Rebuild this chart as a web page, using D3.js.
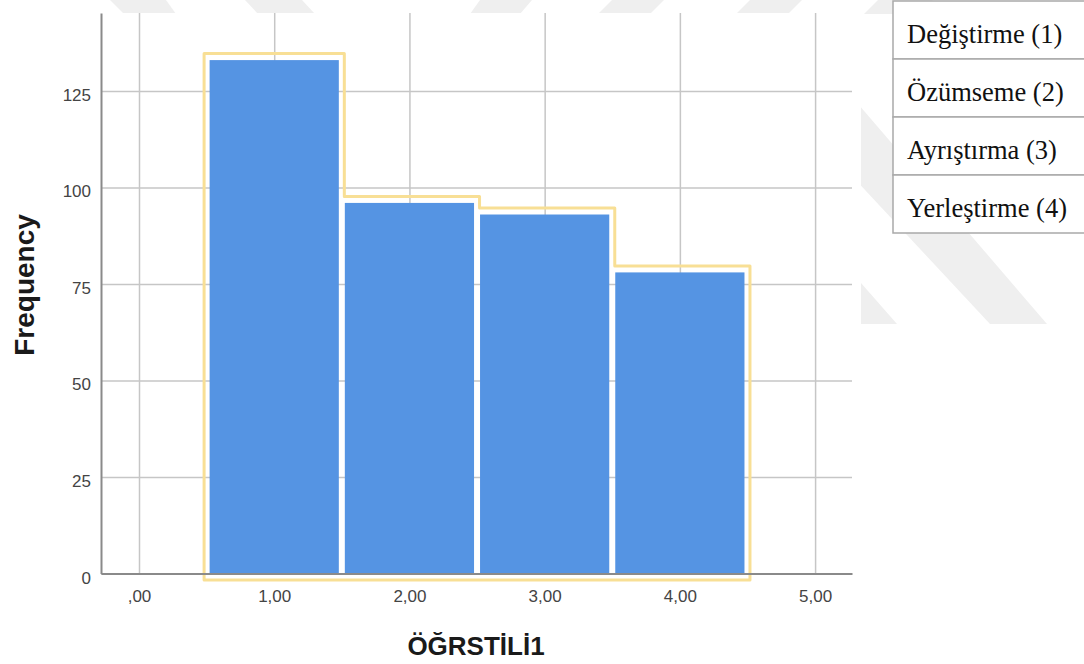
<!DOCTYPE html>
<html><head><meta charset="utf-8">
<script src="https://cdn.jsdelivr.net/npm/d3@7"></script>
<style>body{margin:0;background:#fff;} svg{display:block}</style>
</head><body><svg id="c" width="1084" height="664"></svg>
<script>
// ---- data ----
const binCenters = [1, 2, 3, 4];
const frequencies = [133, 96, 93, 78];
const xTickValues = [0, 1, 2, 3, 4, 5];
const xTickLabels = [",00", "1,00", "2,00", "3,00", "4,00", "5,00"];
const yTickValues = [0, 25, 50, 75, 100, 125];
const legendLabels = ["Değiştirme (1)", "Özümseme (2)", "Ayrıştırma (3)", "Yerleştirme (4)"];
const xTitle = "ÖĞRSTİLİ1";
const yTitle = "Frequency";

// ---- drawing ----
const svg = d3.select("#c");
const x = d3.scaleLinear().domain([-0.281, 5.273]).range([101, 852]);
const y = d3.scaleLinear().domain([0, 145.2]).range([573.5, 13]);

// faint watermark
const defs = svg.append("defs");
const cp = defs.append("clipPath").attr("id", "wm");
cp.append("rect").attr("x", 0).attr("y", 0).attr("width", 1084).attr("height", 13);
cp.append("rect").attr("x", 861).attr("y", 13).attr("width", 223).attr("height", 311);
const wmPolys = [
  [[110,0],[166,0],[176,14],[124,14]],
  [[245,0],[302,0],[315,14],[258,14]],
  [[480,0],[532,0],[520,14],[470,14]],
  [[612,0],[664,0],[650,14],[598,14]],
  [[750,0],[802,0],[788,14],[736,14]],
  [[878,0],[933,0],[920,14],[864,14]],
  [[700,13],[780,13],[1047,324],[990,324]],
  [[820,240],[861,283],[897,324],[820,324]]
];
svg.append("g").attr("clip-path", "url(#wm)")
  .selectAll("polygon").data(wmPolys).join("polygon")
  .attr("points", d => d.map(p => p.join(",")).join(" "))
  .attr("fill", "#efefef");

// gridlines
const gridColor = "#c6c6c6";
const gx = svg.append("g").attr("transform", `translate(0,${y(0)})`)
  .call(d3.axisBottom(x).tickValues(xTickValues).tickSize(-(y(0) - y(145.2))).tickFormat(""));
gx.select(".domain").remove();
gx.selectAll("line").attr("stroke", gridColor).attr("stroke-width", 1.5);
const gy = svg.append("g").attr("transform", `translate(${x(-0.281)},0)`)
  .call(d3.axisLeft(y).tickValues(yTickValues).tickSize(-(x(5.273) - x(-0.281))).tickFormat(""));
gy.select(".domain").remove();
gy.selectAll("line").attr("stroke", gridColor).attr("stroke-width", 1.5);

// bars
const barData = binCenters.map((c, i) => ({c, v: frequencies[i]}));
svg.append("g").selectAll("rect").data(barData).join("rect")
  .attr("x", d => x(d.c - 0.5) + 3)
  .attr("width", d => x(d.c + 0.5) - x(d.c - 0.5) - 6)
  .attr("y", d => y(d.v))
  .attr("height", d => y(0) - y(d.v))
  .attr("fill", "#5594e3");

// yellow envelope outline
const ox = 2.5, oy = 6.5;
const pts = [];
pts.push([x(binCenters[0] - 0.5) - ox, y(0) + oy]);
barData.forEach((d, i) => {
  const left = i === 0 ? x(d.c - 0.5) - ox : x(d.c - 0.5) + ox;
  const right = x(d.c + 0.5) + ox;
  pts.push([left, y(d.v) - oy]);
  pts.push([right, y(d.v) - oy]);
});
pts.push([x(binCenters[binCenters.length - 1] + 0.5) + ox, y(0) + oy]);
svg.append("path")
  .attr("d", d3.line()(pts) + "Z")
  .attr("fill", "none")
  .attr("stroke", "#f8df95")
  .attr("stroke-width", 3)
  .attr("stroke-linejoin", "round");

// axes
const axisColor = "#8a8a8a";
const ay = svg.append("g").attr("transform", `translate(${x(-0.281)},0)`)
  .call(d3.axisLeft(y).tickValues(yTickValues).tickSize(0).tickSizeOuter(0).tickPadding(10));
ay.select(".domain").attr("stroke", axisColor).attr("stroke-width", 2);
ay.selectAll("text").attr("dy", null).attr("y", 9.5)
  .attr("font-family", "'Liberation Sans', Arial, sans-serif").attr("font-size", 17).attr("fill", "#444");

const ax = svg.append("g").attr("transform", `translate(0,${y(0)})`)
  .call(d3.axisBottom(x).tickValues(xTickValues).tickSize(0).tickSizeOuter(0)
    .tickFormat((d, i) => xTickLabels[i]));
ax.select(".domain").attr("stroke", axisColor).attr("stroke-width", 2);
ax.selectAll("text").attr("dy", null).attr("y", 28)
  .attr("font-family", "'Liberation Sans', Arial, sans-serif").attr("font-size", 17).attr("fill", "#444");

// titles
svg.append("text")
  .attr("transform", "translate(34,285) rotate(-90)")
  .attr("text-anchor", "middle")
  .attr("font-family", "'Liberation Sans', Arial, sans-serif")
  .attr("font-weight", "bold").attr("font-size", 28).attr("fill", "#1a1a1a")
  .text(yTitle);
svg.append("text")
  .attr("x", 476).attr("y", 655)
  .attr("text-anchor", "middle")
  .attr("font-family", "'Liberation Sans', Arial, sans-serif")
  .attr("font-weight", "bold").attr("font-size", 26).attr("fill", "#1a1a1a")
  .text(xTitle);

// legend table
const lg = svg.append("g");
const rowH = 58, top0 = 1, lx = 893;
lg.selectAll("rect").data(legendLabels).join("rect")
  .attr("x", lx).attr("y", (d, i) => top0 + i * rowH)
  .attr("width", 210).attr("height", rowH)
  .attr("fill", "#fff").attr("stroke", "#a9a9a9").attr("stroke-width", 1.5);
lg.selectAll("text").data(legendLabels).join("text")
  .attr("x", 907)
  .attr("y", (d, i) => top0 + i * rowH + 41.5)
  .attr("font-family", "'Liberation Serif', 'Times New Roman', serif")
  .attr("font-size", 26.5).attr("fill", "#111")
  .text(d => d);
</script>
</body></html>
